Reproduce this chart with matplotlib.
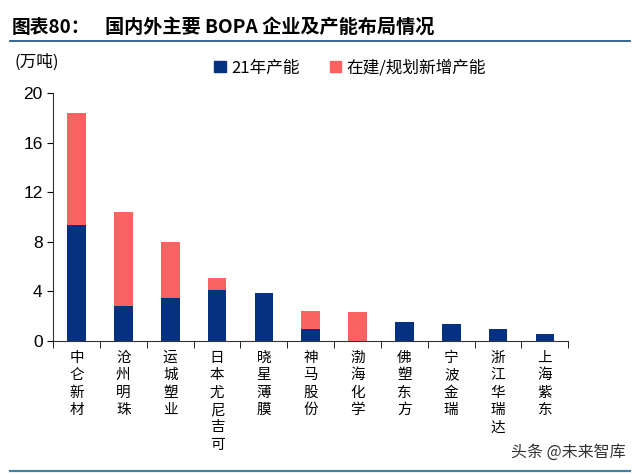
import numpy as np
import matplotlib.pyplot as plt
from matplotlib.lines import Line2D
from matplotlib.patches import Patch

plt.rcParams['font.family'] = ['Noto Sans CJK SC', 'DejaVu Sans']

companies = ['中仑新材', '沧州明珠', '运城塑业', '日本尤尼吉可', '晓星薄膜', '神马股份',
             '渤海化学', '佛塑东方', '宁波金瑞', '浙江华瑞达', '上海紫东']
cap_21 = [9.35, 2.8, 3.5, 4.1, 3.85, 0.95, 0.0, 1.55, 1.4, 0.95, 0.6]
cap_new = [9.05, 7.6, 4.5, 1.0, 0.0, 1.5, 2.35, 0.0, 0.0, 0.0, 0.0]

navy = '#063080'
red = '#fb6262'

fig = plt.figure(figsize=(6.4, 4.75), dpi=100)
ax = fig.add_axes([0.083, 0.282, 0.805, 0.522])

x = np.arange(len(companies))
ax.bar(x, cap_21, width=0.4, color=navy, label='21年产能')
ax.bar(x, cap_new, width=0.4, bottom=cap_21, color=red, label='在建/规划新增产能')

ax.set_xlim(-0.5, len(companies) - 0.5)
ax.set_ylim(0, 20)
ax.set_yticks([0, 4, 8, 12, 16, 20])
ax.tick_params(axis='y', labelsize=12.5, length=4, direction='out')
for t in ax.get_yticklabels():
    t.set_family(['Liberation Sans', 'DejaVu Sans'])

ax.set_xticks(x)
ax.set_xticklabels(['\n'.join(c) for c in companies], fontsize=10.5, va='top',
                   linespacing=1.31)
ax.tick_params(axis='x', length=0, pad=7)
ax.set_xticks(np.arange(-0.5, len(companies)), minor=True)
ax.tick_params(axis='x', which='minor', length=5, direction='out')

for s in ['top', 'right']:
    ax.spines[s].set_visible(False)
ax.spines['left'].set_color('#333333')
ax.spines['bottom'].set_color('#333333')

handles = [Patch(color=navy), Patch(color=red)]
fig.legend(handles, ['21年产能', '在建/规划新增产能'], loc='center',
           bbox_to_anchor=(0.547, 0.857), ncol=2, frameon=False, fontsize=12,
           handlelength=0.7, handleheight=0.7, handletextpad=0.3, columnspacing=1.8)

fig.text(0.022, 0.869, '(万吨)', fontsize=12, va='center')
fig.text(0.018, 0.942, '图表80：', fontsize=13.5, fontweight='bold', va='center')
fig.text(0.164, 0.942, '国内外主要 BOPA 企业及产能布局情况', fontsize=13.8,
         fontweight='bold', va='center')
fig.add_artist(Line2D([0.016, 0.984], [0.914, 0.914], color='#2a5d8a', lw=1.3))
fig.add_artist(Line2D([0.016, 0.984], [0.009, 0.009], color='#3a86a6', lw=1.6))
fig.text(0.888, 0.048, '头条 @未来智库', fontsize=11.5, color='#333333',
         ha='center', va='center')

fig.savefig('out.png', dpi=100)
